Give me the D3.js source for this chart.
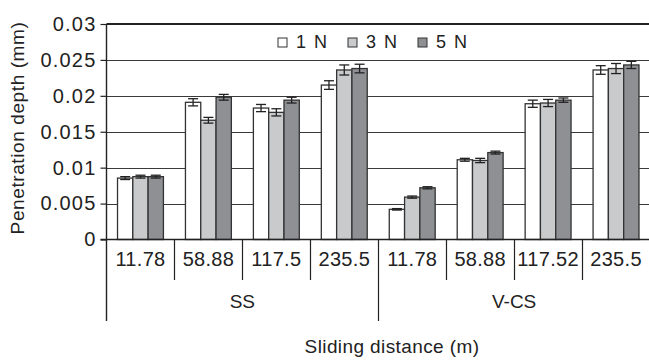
<!DOCTYPE html>
<html lang="en">
<head>
  <meta charset="utf-8">
  <title>penetration depth</title>
  <style>
body {
  margin: 0;
  background-color: #fff;
  font-family: "Liberation Sans", Arial, sans-serif;
}
  </style>
  <script src="https://d3js.org/d3.v7.min.js"></script>
</head>
<body>
<div id="chart"></div>

<script>

// data
var groups = ['SS', 'V-CS'];
var distances = ['11.78', '58.88', '117.5', '235.5', '11.78', '58.88', '117.52', '235.5'];
var groupOf = [0, 0, 0, 0, 1, 1, 1, 1];
var loads = ['1 N', '3 N', '5 N'];
var depth1N = [0.00855, 0.0191, 0.0183, 0.0215, 0.0042, 0.0111, 0.0189, 0.0236];
var depth3N = [0.00875, 0.0166, 0.0177, 0.0236, 0.0059, 0.0110, 0.0190, 0.0238];
var depth5N = [0.00875, 0.0198, 0.0194, 0.0238, 0.0072, 0.0121, 0.0194, 0.0243];
var err1N = [0.0002, 0.0005, 0.0005, 0.0006, 0.0001, 0.0002, 0.0005, 0.0006];
var err3N = [0.0002, 0.0004, 0.0005, 0.0007, 0.00015, 0.0003, 0.0005, 0.0007];
var err5N = [0.0002, 0.0004, 0.0004, 0.0006, 0.00015, 0.0002, 0.0003, 0.0005];
var yTicks = [0, 0.005, 0.01, 0.015, 0.02, 0.025, 0.03];
var yTickLabels = ['0', '0.005', '0.01', '0.015', '0.02', '0.025', '0.03'];
var colors = ['#ffffff', '#c9cacc', '#8e9094'];

var depths = [depth1N, depth3N, depth5N];
var errs = [err1N, err3N, err5N];

var w = 649, h = 360;
var plotLeft = 106.5, plotRight = 650, plotTop = 24, plotBottom = 239.5;

var svg = d3.select('#chart').append('svg')
  .attr('width', w)
  .attr('height', h);

var x = d3.scaleBand()
  .domain(d3.range(distances.length))
  .range([plotLeft, plotRight])
  .paddingInner(0)
  .paddingOuter(0);

var xs = d3.scaleBand()
  .domain(d3.range(loads.length))
  .range([0, x.bandwidth()])
  .paddingInner(0)
  .paddingOuter(0.72);

var y = d3.scaleLinear()
  .domain([0, 0.03])
  .range([plotBottom, plotTop]);

// gridlines
svg.append('g')
  .selectAll('line')
  .data(yTicks.slice(1, -1))
  .enter().append('line')
  .attr('x1', plotLeft).attr('x2', plotRight)
  .attr('y1', function(d) { return Math.round(y(d)) + 0.5; })
  .attr('y2', function(d) { return Math.round(y(d)) + 0.5; })
  .attr('stroke', '#3a3a3a')
  .attr('stroke-width', 1);

// top frame
svg.append('line')
  .attr('x1', plotLeft).attr('x2', plotRight)
  .attr('y1', y(0.03)).attr('y2', y(0.03))
  .attr('stroke', '#222').attr('stroke-width', 2);

// y axis
var yAxis = d3.axisLeft(y)
  .tickValues(yTicks)
  .tickFormat(function(d, i) { return yTickLabels[i]; })
  .tickSize(6)
  .tickPadding(4);

var gy = svg.append('g')
  .attr('transform', 'translate(' + plotLeft + ',0)')
  .call(yAxis);
gy.select('.domain').remove();
gy.selectAll('.tick line').attr('stroke', '#222').attr('stroke-width', 1.2);
gy.selectAll('.tick text')
  .attr('fill', '#222')
  .style('font-size', '20px')
  .style('letter-spacing', '1.2px')
  .style('font-family', '"Liberation Sans", Arial, sans-serif');

// bars
var cells = [];
distances.forEach(function(dist, c) {
  loads.forEach(function(l, s) {
    cells.push({ c: c, s: s, v: depths[s][c], e: errs[s][c] });
  });
});

svg.append('g')
  .selectAll('rect')
  .data(cells)
  .enter().append('rect')
  .attr('x', function(d) { return x(d.c) + xs(d.s); })
  .attr('y', function(d) { return y(d.v); })
  .attr('width', xs.bandwidth())
  .attr('height', function(d) { return y(0) - y(d.v); })
  .attr('fill', function(d) { return colors[d.s]; })
  .attr('stroke', '#333')
  .attr('stroke-width', 1.3);

// error bars
var eb = svg.append('g')
  .attr('stroke', '#222')
  .attr('stroke-width', 1.3);

eb.selectAll('line.v')
  .data(cells)
  .enter().append('line')
  .attr('class', 'v')
  .attr('x1', function(d) { return x(d.c) + xs(d.s) + xs.bandwidth() / 2; })
  .attr('x2', function(d) { return x(d.c) + xs(d.s) + xs.bandwidth() / 2; })
  .attr('y1', function(d) { return y(d.v - d.e); })
  .attr('y2', function(d) { return y(d.v + d.e); });

['hi', 'lo'].forEach(function(k) {
  eb.selectAll('line.' + k)
    .data(cells)
    .enter().append('line')
    .attr('class', k)
    .attr('x1', function(d) { return x(d.c) + xs(d.s) + xs.bandwidth() / 2 - 5; })
    .attr('x2', function(d) { return x(d.c) + xs(d.s) + xs.bandwidth() / 2 + 5; })
    .attr('y1', function(d) { return y(k == 'hi' ? d.v + d.e : d.v - d.e); })
    .attr('y2', function(d) { return y(k == 'hi' ? d.v + d.e : d.v - d.e); });
});

// baseline and left axis line
svg.append('line')
  .attr('x1', plotLeft - 6).attr('x2', plotRight)
  .attr('y1', plotBottom).attr('y2', plotBottom)
  .attr('stroke', '#222').attr('stroke-width', 1.4);

svg.append('line')
  .attr('x1', plotLeft).attr('x2', plotLeft)
  .attr('y1', plotTop).attr('y2', 321)
  .attr('stroke', '#222').attr('stroke-width', 1.4);

// category separators
svg.append('g')
  .selectAll('line')
  .data(d3.range(1, distances.length))
  .enter().append('line')
  .attr('x1', function(d) { return Math.round(x(d)) + 0.5; })
  .attr('x2', function(d) { return Math.round(x(d)) + 0.5; })
  .attr('y1', plotBottom)
  .attr('y2', function(d) { return groupOf[d] != groupOf[d - 1] ? 321 : 280; })
  .attr('stroke', '#222').attr('stroke-width', 1.2);

// category labels
svg.append('g')
  .selectAll('text')
  .data(distances)
  .enter().append('text')
  .attr('x', function(d, i) { return x(i) + x.bandwidth() / 2; })
  .attr('y', 266)
  .attr('text-anchor', 'middle')
  .attr('fill', '#222')
  .style('font-size', '20px')
  .style('letter-spacing', '0.3px')
  .text(function(d) { return d; });

// group labels
svg.append('g')
  .selectAll('text')
  .data(groups)
  .enter().append('text')
  .attr('x', function(d, g) {
    var idx = d3.range(distances.length).filter(function(i) { return groupOf[i] == g; });
    return (x(idx[0]) + x(idx[idx.length - 1]) + x.bandwidth()) / 2;
  })
  .attr('y', 308)
  .attr('text-anchor', 'middle')
  .attr('fill', '#222')
  .style('font-size', '19px')
  .text(function(d) { return d; });

// axis titles
svg.append('text')
  .attr('x', 392)
  .attr('y', 353)
  .attr('text-anchor', 'middle')
  .attr('fill', '#222')
  .style('font-size', '19px')
  .style('letter-spacing', '0.4px')
  .text('Sliding distance (m)');

svg.append('text')
  .attr('transform', 'translate(24,128) rotate(-90)')
  .attr('text-anchor', 'middle')
  .attr('fill', '#222')
  .style('font-size', '19px')
  .style('letter-spacing', '0.6px')
  .text('Penetration depth (mm)');

// legend
var legendX = [278, 348, 418];
var lg = svg.append('g')
  .selectAll('g')
  .data(loads)
  .enter().append('g')
  .attr('transform', function(d, i) { return 'translate(' + legendX[i] + ',38)'; });

lg.append('rect')
  .attr('width', 9).attr('height', 9)
  .attr('fill', function(d, i) { return colors[i]; })
  .attr('stroke', '#333').attr('stroke-width', 1);

lg.append('text')
  .attr('x', 18)
  .attr('y', 10)
  .attr('fill', '#222')
  .style('font-size', '18px')
  .style('letter-spacing', '1.5px')
  .text(function(d) { return d; });

</script>
</body>
</html>
